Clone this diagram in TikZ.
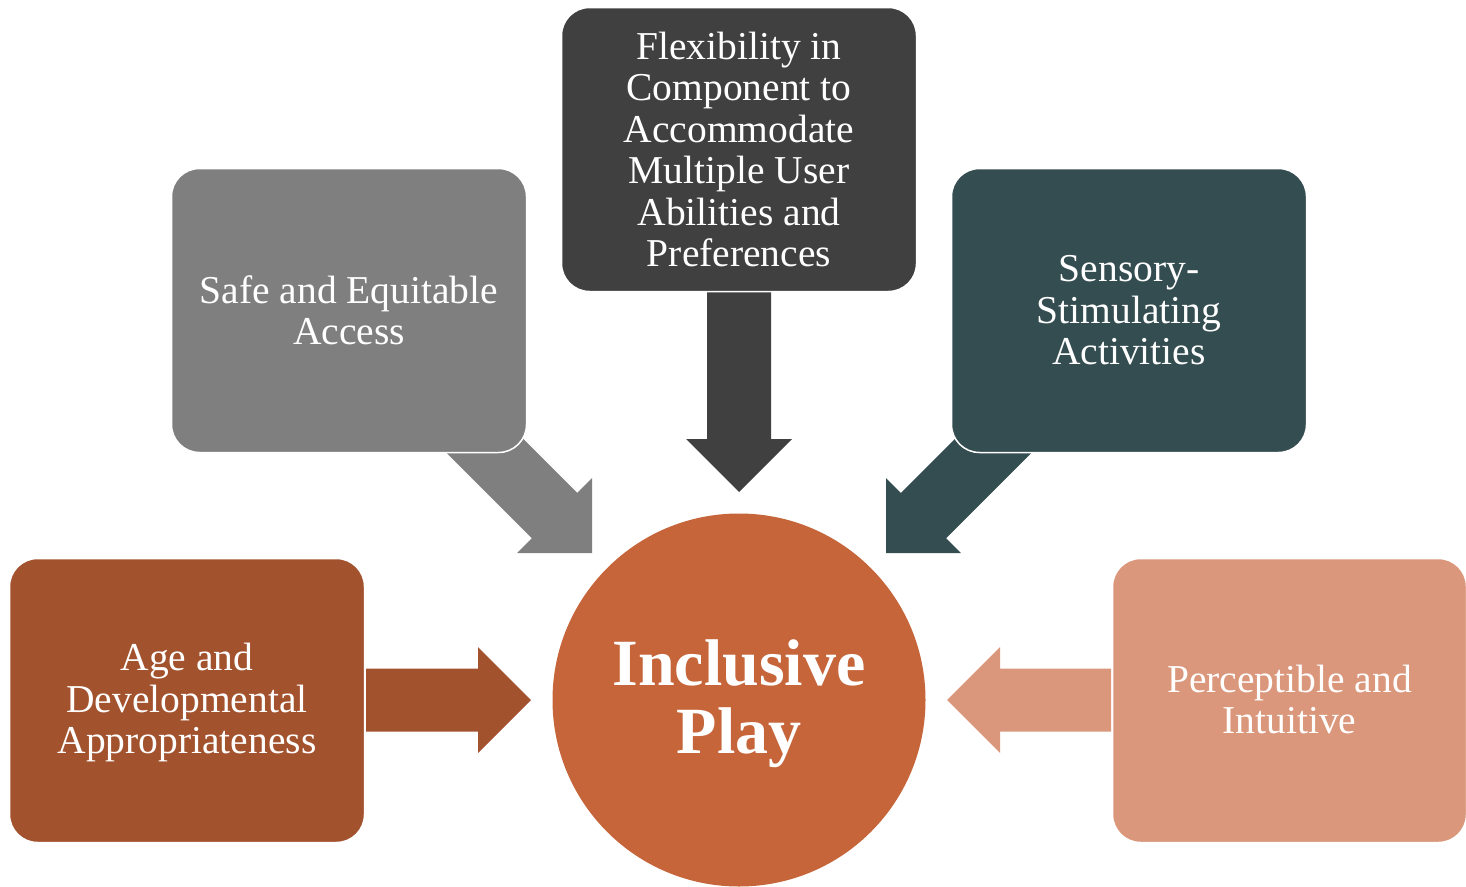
\documentclass[tikz,border=0pt]{standalone}
\usepackage{fontspec}
\setmainfont{Liberation Serif}
\usetikzlibrary{calc}
\definecolor{cdark}{HTML}{404040}
\definecolor{cgray}{HTML}{7F7F7F}
\definecolor{cteal}{HTML}{344D51}
\definecolor{cbrown}{HTML}{A3522E}
\definecolor{csalmon}{HTML}{DA977B}
\definecolor{corange}{HTML}{C6653A}
\newcommand{\blockarrow}[5]{% color, start, end, shaft half width, head half width / length
  \coordinate (#2h) at ($(#3)!#5!(#2)$);
  \fill[#1] ($(#2)!#4!90:(#3)$) -- ($(#2h)!#4!90:(#3)$) -- ($(#2h)!#5!90:(#3)$) -- (#3)
    -- ($(#2h)!#5!-90:(#3)$) -- ($(#2h)!#4!-90:(#3)$) -- ($(#2)!#4!-90:(#3)$) -- cycle;
}
\begin{document}
\begin{tikzpicture}[x=1pt,y=-1pt,
  box/.style={rectangle, rounded corners=28pt, draw=white, line width=1.5pt,
    minimum width=355pt, minimum height=284pt, inner sep=0pt, align=center,
    text=white, font=\fontsize{39.5}{41.5}\selectfont},
  boxtext/.style={align=center, inner sep=0pt, text=white, font=\fontsize{39.5}{41.5}\selectfont},
  hub/.style={circle, fill=corange, minimum size=373pt, inner sep=0pt},
  hubtext/.style={align=center, inner sep=0pt, text=white,
    font=\bfseries\fontsize{66}{68}\selectfont}]
\useasboundingbox (0,0) rectangle (1466,886);
% arrow end points
\coordinate (sd) at (739,292);  \coordinate (ed) at (739,492);
\coordinate (sr) at (366,700);  \coordinate (er) at (531,700);
\coordinate (sl) at (1111,700); \coordinate (el) at (947,700);
\coordinate (sg) at (450,411);  \coordinate (eg) at (592,553);
\coordinate (st) at (1028,411); \coordinate (et) at (886,553);
\blockarrow{cdark}{sd}{ed}{32pt}{53pt}
\blockarrow{cbrown}{sr}{er}{31.5pt}{53pt}
\blockarrow{csalmon}{sl}{el}{31.5pt}{53pt}
\blockarrow{cgray}{sg}{eg}{32pt}{53pt}
\blockarrow{cteal}{st}{et}{32pt}{53pt}
% boxes
\node[box, fill=cdark] (top) at (739,149.5) {Flexibility in\\Component to\\Accommodate\\Multiple User\\Abilities and\\Preferences};
\node[box, fill=cgray] (safe) at (349,310.5) {Safe and Equitable\\Access};
\node[box, fill=cteal] (sens) at (1129,310.5) {Sensory-\\Stimulating\\Activities};
\node[box, fill=cbrown] (age) at (187,700.5) {};
\node[boxtext] (agetext) at (187,702.5) {Age and\\Developmental\\Appropriateness};
\node[box, fill=csalmon, minimum width=354pt] (perc) at (1289.5,700.5) {};
\node[boxtext] (perctext) at (1289.5,699.5) {Perceptible and\\Intuitive};
\node[hub] (hub) at (739,700) {};
\node[hubtext] (hubt) at (739,704) {Inclusive\\Play};
\end{tikzpicture}
\end{document}
